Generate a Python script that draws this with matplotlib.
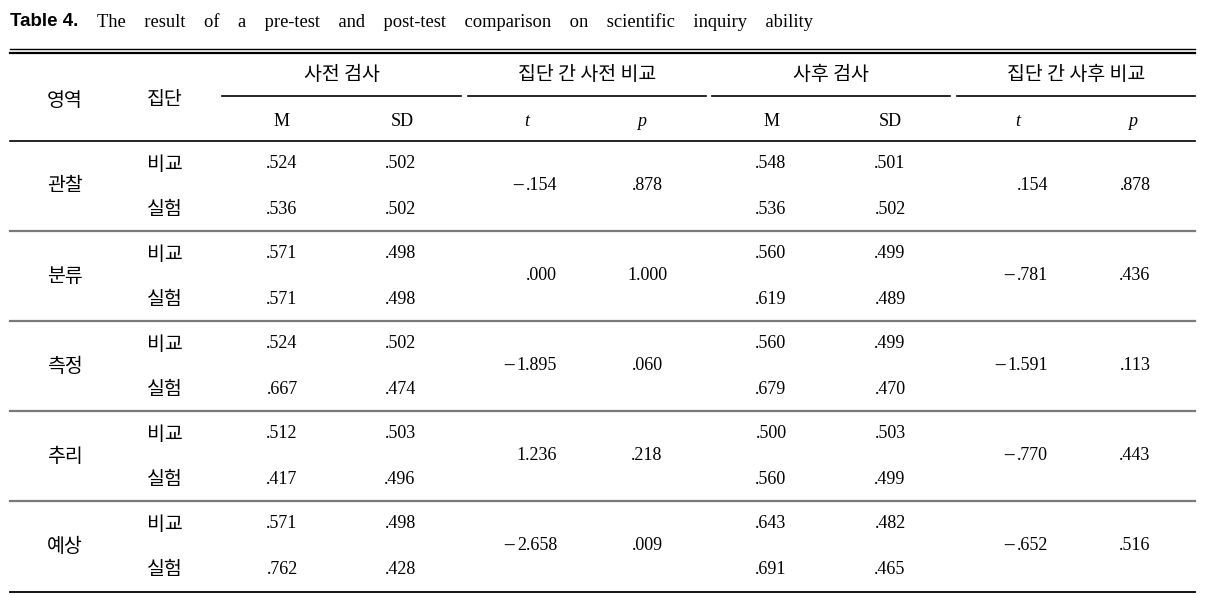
import matplotlib
matplotlib.use("Agg")
import matplotlib.pyplot as plt

# table data
areas = ["관찰", "분류", "측정", "추리", "예상"]
groups = ["비교", "실험"]
pre_m = [[.524, .536], [.571, .571], [.524, .667], [.512, .417], [.571, .762]]
pre_sd = [[.502, .502], [.498, .498], [.502, .474], [.503, .496], [.498, .428]]
pre_t = [-.154, .000, -1.895, 1.236, -2.658]
pre_p = [.878, 1.000, .060, .218, .009]
post_m = [[.548, .536], [.560, .619], [.560, .679], [.500, .560], [.643, .691]]
post_sd = [[.501, .502], [.499, .489], [.499, .470], [.503, .499], [.482, .465]]
post_t = [.154, -.781, -1.591, -.770, -.652]
post_p = [.878, .436, .113, .443, .516]

col_groups = ["사전 검사", "집단 간 사전 비교", "사후 검사", "집단 간 사후 비교"]
sub_heads = ["M", "SD", "t", "p", "M", "SD", "t", "p"]
title_lead = "Table 4."
title_text = "The result of a pre-test and post-test comparison on scientific inquiry ability"

KR = ["Noto Sans CJK KR", "DejaVu Sans"]
KR_FS = 14
SERIF = "Liberation Serif"
FS = 13


def fmt(v):
    s = f"{abs(v):.3f}"
    if s.startswith("0"):
        s = s[1:]
    return s


def kr(x, y, s):
    ax.text(x, y, s, family=KR, fontsize=KR_FS, weight="light",
            ha="center", va="center")


def num(x, y, v, ha="center"):
    t = ax.text(x, y, fmt(v), family=SERIF, fontsize=FS, ha=ha, va="center")
    if v < 0:
        # wide minus sign like the original typesetting
        w = t.get_window_extent(renderer).width
        left = x - w if ha == "right" else x - w / 2
        ax.text(left - 1, y - 1, "\u2212", family="DejaVu Sans",
                fontsize=FS - 1.5, ha="right", va="center", color="#222222")


fig = plt.figure(figsize=(12.14, 5.95), dpi=100)
ax = fig.add_axes([0, 0, 1, 1])
ax.set_xlim(0, 1214)
ax.set_ylim(595, 0)
ax.axis("off")
renderer = fig.canvas.get_renderer()

# title
ax.text(10, 22, title_lead, family="Liberation Sans", weight="bold",
        fontsize=13.5, va="center", ha="left")
ax.text(97, 22, "    ".join(title_text.split()), family=SERIF,
        fontsize=13.3, va="center", ha="left")

# rules
L, R = 10, 1195
ax.plot([L, R], [49, 49], color="black", lw=1.0)
ax.plot([L, R], [53, 53], color="black", lw=1.6)
spans = [(222, 461), (468, 706), (712, 950), (957, 1195)]
for (a, b), name in zip(spans, col_groups):
    ax.plot([a, b], [96, 96], color="black", lw=1.2)
    kr((a + b) / 2, 74, name)
ax.plot([L, R], [141, 141], color="black", lw=1.2)

kr(65, 100, "영역")
kr(165, 100, "집단")

head_x = [282, 402, 527, 642, 772, 890, 1018, 1133]
for x, h in zip(head_x, sub_heads):
    ax.text(x, 122, h, family=SERIF, fontsize=FS, ha="center", va="center",
            style="italic" if h in ("t", "p") else "normal")

# body
top, block = 141, 90
for i, area in enumerate(areas):
    y0 = top + i * block
    ymid = y0 + 45
    rows = [y0 + 23, y0 + 69]
    kr(65, ymid, area)
    for j, g in enumerate(groups):
        y = rows[j]
        kr(165, y, g)
        num(282, y, pre_m[i][j])
        num(400, y, pre_sd[i][j])
        num(771, y, post_m[i][j])
        num(890, y, post_sd[i][j])
    num(557, ymid, pre_t[i], ha="right")
    num(647, ymid, pre_p[i])
    num(1048, ymid, post_t[i], ha="right")
    num(1135, ymid, post_p[i])
    y1 = y0 + block
    if i < len(areas) - 1:
        ax.plot([L, R], [y1, y1], color="#7a7a7a", lw=1.6)
    else:
        ax.plot([L, R], [y1 + 1, y1 + 1], color="black", lw=1.3)

fig.savefig("out.png", dpi=100)
